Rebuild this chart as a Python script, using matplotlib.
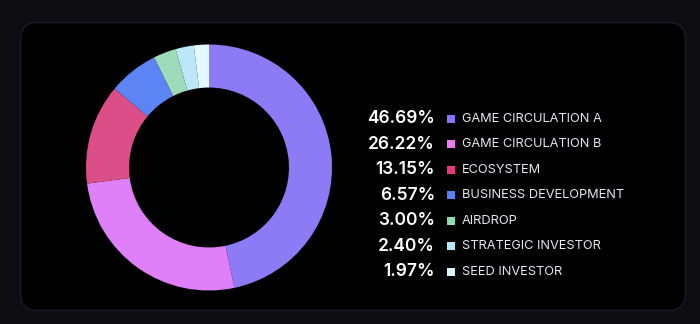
import matplotlib
matplotlib.use("Agg")
import matplotlib.pyplot as plt
from matplotlib.patches import FancyBboxPatch, Rectangle

labels = ["GAME CIRCULATION A", "GAME CIRCULATION B", "ECOSYSTEM",
          "BUSINESS DEVELOPMENT", "AIRDROP", "STRATEGIC INVESTOR", "SEED INVESTOR"]
values = [46.69, 26.22, 13.15, 6.57, 3.00, 2.40, 1.97]
pct_labels = ["46.69%", "26.22%", "13.15%", "6.57%", "3.00%", "2.40%", "1.97%"]
colors = ["#8C7BF5", "#DF80F8", "#DC4E87", "#5C84F4", "#9EDCB9", "#BDE7F8", "#E2FAFF"]
legend_colors = ["#8E70F6", "#EE7BF6", "#E8387B", "#5B80F5", "#8FDCB1", "#B8E8F7", "#DDF8FB"]

W, H = 700, 324
fig = plt.figure(figsize=(W / 100, H / 100), dpi=100, facecolor="#0d0d11")

bg = fig.add_axes([0, 0, 1, 1])
bg.set_xlim(0, W)
bg.set_ylim(H, 0)
bg.axis("off")
bg.set_facecolor("none")

# card
card = FancyBboxPatch((20.5, 22.5), 665, 288, boxstyle="round,pad=0,rounding_size=17",
                      facecolor="#000000", edgecolor="#161a28", linewidth=1.2)
bg.add_patch(card)

# donut
cx, cy, r = 209, 167.5, 123
ax = fig.add_axes([(cx - r) / W, (H - cy - r) / H, 2 * r / W, 2 * r / H])
ax.pie(values, colors=colors, startangle=90, counterclock=False,
       radius=1.0, wedgeprops=dict(width=0.35, edgecolor="none"))
ax.set_xlim(-1, 1)
ax.set_ylim(-1, 1)
ax.set_aspect("equal")
ax.axis("off")

# legend
y0, dy = 118.6, 25.55
for i, (p, lab, c) in enumerate(zip(pct_labels, labels, legend_colors)):
    y = y0 + i * dy
    bg.text(435, y, p, ha="right", va="center", color="white", fontsize=12.5,
            fontweight="semibold", family=["Inter", "DejaVu Sans"])
    bg.add_patch(Rectangle((447, y - 4), 8, 8, facecolor=c, edgecolor="none"))
    bg.text(462, y, lab, ha="left", va="center", color="#e6e6ec", fontsize=9.2,
            family=["Inter", "DejaVu Sans"])

fig.savefig("out.png", dpi=100, facecolor=fig.get_facecolor())
